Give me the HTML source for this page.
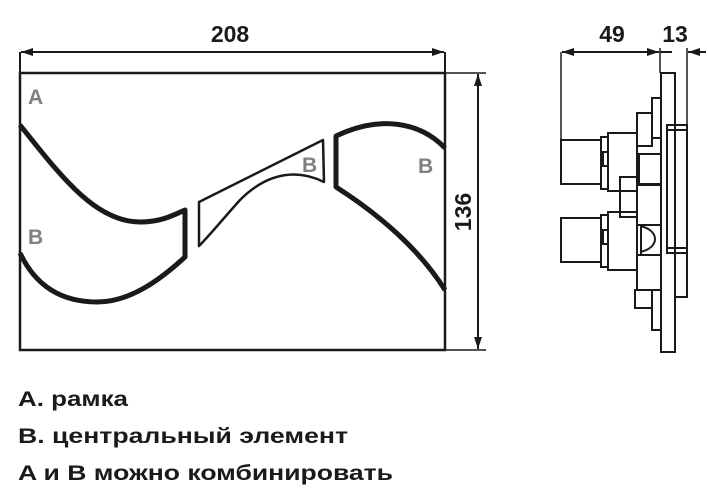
<!DOCTYPE html>
<html><head><meta charset="utf-8"><style>
html,body{margin:0;padding:0;background:#fff;}
svg{display:block;}
</style></head><body>
<svg width="708" height="498" viewBox="0 0 708 498" xmlns="http://www.w3.org/2000/svg" font-family="Liberation Sans, DejaVu Sans, sans-serif">
<defs>
<marker id="ar" viewBox="0 0 12 8" refX="12" refY="4" markerWidth="12" markerHeight="8" markerUnits="userSpaceOnUse" orient="auto-start-reverse">
<path d="M0,0 L12,4 L0,8 Z" fill="#1a1a1a"/></marker>
</defs>
<g stroke="#1a1a1a" fill="none">
<line x1="20" y1="52" x2="20" y2="73" stroke-width="2"/>
<line x1="445" y1="52" x2="445" y2="73" stroke-width="2"/>
<line x1="21" y1="52" x2="444" y2="52" stroke-width="2" marker-start="url(#ar)" marker-end="url(#ar)"/>
<line x1="445" y1="73" x2="486" y2="73" stroke-width="1.5"/>
<line x1="445" y1="350" x2="486" y2="350" stroke-width="1.5"/>
<line x1="478" y1="74" x2="478" y2="349" stroke-width="2" marker-start="url(#ar)" marker-end="url(#ar)"/>
<rect x="20" y="73" width="425" height="277" stroke-width="2.5"/>
<path d="M20,125 C60,175 95,222 140,222 C160,222 172,216 185,210 L185,257 C160,280 130,302 97,302 C60,302 35,285 20,253" stroke-width="5" stroke-linejoin="round"/>
<path d="M199,202 L323,140 L324,182 C300,170 270,170 240,200 C222,220 210,235 199,246 Z" stroke-width="2.5" stroke-linejoin="round"/>
<path d="M445,148 C420,122 380,115 336,136 L336,187 C380,215 420,250 445,290" stroke-width="5" stroke-linejoin="round"/>
<line x1="561" y1="52" x2="561" y2="140" stroke-width="1.5"/>
<line x1="660" y1="48" x2="660" y2="73" stroke-width="1.5"/>
<line x1="687" y1="48" x2="687" y2="125" stroke-width="1.5"/>
<line x1="562" y1="52" x2="659" y2="52" stroke-width="2" marker-start="url(#ar)" marker-end="url(#ar)"/>
<line x1="660" y1="52" x2="672" y2="52" stroke-width="2"/>
<line x1="706" y1="52" x2="688" y2="52" stroke-width="2" marker-end="url(#ar)"/>
<g stroke-width="2">
<rect x="661" y="73" width="14" height="279"/>
<polyline points="675,73 675,125 687,125 687,297 675,297"/>
<rect x="667" y="125" width="20" height="128"/>
<line x1="667" y1="130" x2="687" y2="130"/>
<line x1="667" y1="248" x2="687" y2="248"/>
<rect x="652" y="98" width="9" height="40"/>
<rect x="637" y="113" width="15" height="33"/>
<rect x="639" y="154" width="22" height="30"/>
<rect x="637" y="185" width="24" height="40"/>
<rect x="641" y="225" width="20" height="30"/>
<rect x="637" y="255" width="24" height="35"/>
<rect x="652" y="290" width="9" height="40"/>
<rect x="635" y="290" width="17" height="18"/>
<rect x="608" y="133" width="29" height="58"/>
<rect x="620" y="177" width="17" height="40"/>
<rect x="608" y="212" width="29" height="58"/>
<rect x="601" y="137" width="7" height="52"/>
<rect x="601" y="215" width="7" height="52"/>
<rect x="561" y="140" width="40" height="44"/>
<rect x="561" y="218" width="40" height="44"/>
<rect x="603" y="152" width="5" height="14"/>
<rect x="603" y="230" width="5" height="14"/>
<path d="M640,226 C660,230 660,248 640,252"/>
</g>
</g>
<g font-weight="bold" fill="#1a1a1a">
<text x="230" y="42" font-size="23" text-anchor="middle">208</text>
<text transform="translate(471,212) rotate(-90)" font-size="23" text-anchor="middle">136</text>
<text x="612" y="42" font-size="23" text-anchor="middle">49</text>
<text x="675" y="42" font-size="23" text-anchor="middle">13</text>
</g>
<g font-weight="bold" fill="#808080" font-size="21">
<text x="28" y="104">A</text>
<text x="28" y="244">B</text>
<text x="302" y="172">B</text>
<text x="418" y="173">B</text>
</g>
<g font-weight="bold" fill="#1a1a1a" font-size="21">
<text x="18" y="406" textLength="110" lengthAdjust="spacingAndGlyphs">A. рамка</text>
<text x="18" y="443" textLength="330" lengthAdjust="spacingAndGlyphs">B. центральный элемент</text>
<text x="18" y="480" textLength="375" lengthAdjust="spacingAndGlyphs">A и B можно комбинировать</text>
</g>
</svg>
</body></html>
